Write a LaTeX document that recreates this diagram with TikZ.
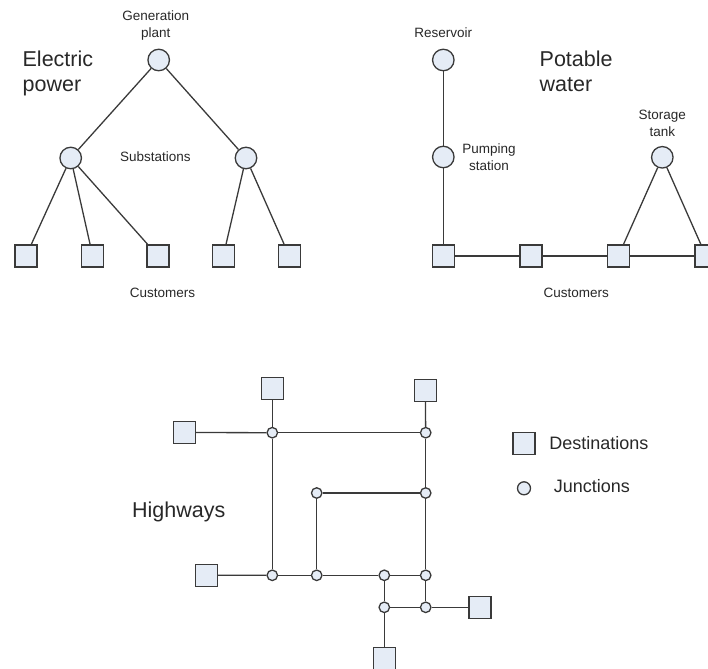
\documentclass[tikz,border=0pt]{standalone}
\usepackage{fontspec}
\setmainfont{Liberation Sans}
\usepackage{tikz}
\usetikzlibrary{positioning}

\definecolor{nodefill}{RGB}{229,236,246}
\definecolor{linegray}{RGB}{58,58,58}
\definecolor{textgray}{RGB}{40,40,40}

\begin{document}
\begin{tikzpicture}[x=1pt,y=-1pt,line width=1.3pt,draw=linegray]
  \tikzstyle{site}=[circle,draw=linegray,fill=nodefill,line width=1.3pt,minimum size=21.5pt,inner sep=0pt]
  \tikzstyle{cust}=[rectangle,draw=linegray,fill=nodefill,line width=1.3pt,minimum size=22pt,inner sep=0pt]
  \tikzstyle{junc}=[circle,draw=linegray,fill=nodefill,line width=1.3pt,minimum size=10.5pt,inner sep=0pt]
  \tikzstyle{lbl}=[inner sep=0pt,align=center,text=textgray,font=\fontsize{13.5}{16.5}\selectfont]
  \tikzstyle{title}=[inner sep=0pt,align=left,text=textgray,font=\fontsize{21.5}{25}\selectfont]
  \tikzstyle{key}=[inner sep=0pt,text=textgray,font=\fontsize{18}{21}\selectfont]
  \tikzstyle{link}=[draw=linegray,line width=1.3pt]

  \useasboundingbox (0,0) rectangle (708,668);

  % electric power
  \node[site] (gen)  at (158.7,60)  {};
  \node[site] (subL) at (70.7,158)  {};
  \node[site] (subR) at (246,158)   {};
  \node[cust] (c1) at (26,256)    {};
  \node[cust] (c2) at (92.7,256)  {};
  \node[cust] (c3) at (158,256)   {};
  \node[cust] (c4) at (223.3,256) {};
  \node[cust] (c5) at (289.3,256) {};

  \node[title,anchor=north west] (elec) at (22,50) {Electric\\power};
  \node[lbl,above=8pt of gen,xshift=-3pt] (genlbl) {Generation\\plant};
  \node[lbl] (sublbl) at (155.3,157) {Substations};
  \node[lbl] (custE) at (162.5,293) {Customers};

  \path[link] (gen) edge (subL)
              (gen) edge (subR)
              (subL) edge (c1)
              (subL) edge (c2)
              (subL) edge (c3)
              (subR) edge (c4)
              (subR) edge (c5);

  % potable water
  \node[site] (res)  at (443.3,60)    {};
  \node[site] (pump) at (443.3,157)   {};
  \node[site] (tank) at (662.3,157.3) {};
  \node[cust] (w1) at (443.3,256) {};
  \node[cust] (w2) at (531,256)   {};
  \node[cust] (w3) at (618.3,256) {};
  \node[cust] (w4) at (706,256)   {};

  \node[title,anchor=north west] (water) at (539,50) {Potable\\water};
  \node[lbl,above=10pt of res] (reslbl) {Reservoir};
  \node[lbl,right=7pt of pump] (pumplbl) {Pumping\\station};
  \node[lbl,above=9pt of tank] (tanklbl) {Storage\\tank};
  \node[lbl] (custW) at (576.3,293) {Customers};

  \path[link] (res) edge (pump)
              (pump) edge (w1)
              (w1) edge (w2)
              (w2) edge (w3)
              (w3) edge (w4)
              (tank) edge (w3)
              (tank) edge (w4);

  % highways
  \node[junc] (j1)  at (272.3,432.7) {};
  \node[junc] (j2)  at (425.7,432.7) {};
  \node[junc] (j3)  at (316.7,493)   {};
  \node[junc] (j4)  at (425.7,493)   {};
  \node[junc] (j5)  at (272.3,575.3) {};
  \node[junc] (j6)  at (316.7,575.3) {};
  \node[junc] (j7)  at (384.3,575.3) {};
  \node[junc] (j8)  at (425.7,575.3) {};
  \node[junc] (j9)  at (384.3,607.3) {};
  \node[junc] (j10) at (425.7,607.3) {};
  \node[cust] (d1) at (272.3,388.7) {};
  \node[cust] (d2) at (425.3,390.3) {};
  \node[cust] (d3) at (184.3,432.5) {};
  \node[cust] (d4) at (206.3,575.2) {};
  \node[cust] (d5) at (480,607.3)   {};
  \node[cust] (d6) at (384.3,658.3) {};

  \node[title,anchor=base west] (hwy) at (131.5,517.5) {Highways};

  \path[link] (d1) edge (j1)
              (d3) edge (j1)
              (j1) edge (j2)
              (d2) edge (j2)
              (j1) edge (j5)
              (j2) edge (j4)
              (j3) edge (j4)
              (j3) edge (j6)
              (j4) edge (j8)
              (d4) edge (j5)
              (j5) edge (j6)
              (j6) edge (j7)
              (j7) edge (j8)
              (j7) edge (j9)
              (j8) edge (j10)
              (j9) edge (j10)
              (j10) edge (d5)
              (j9) edge (d6);

  % legend
  \node[cust] (keyD) at (524,443.3) {};
  \node[junc,minimum size=13pt] (keyJ) at (524,488.3) {};
  \node[key,right=13pt of keyD] (keyDlbl) {Destinations};
  \node[key,right=22pt of keyJ,yshift=2pt] (keyJlbl) {Junctions};
\end{tikzpicture}
\end{document}
